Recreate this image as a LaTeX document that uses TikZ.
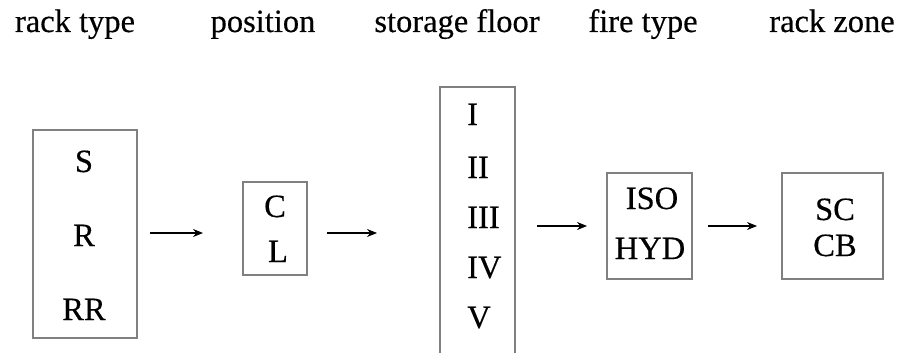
\documentclass[tikz,border=0pt]{standalone}
\usepackage{fontspec}
\setmainfont[FakeBold=0.4]{Liberation Serif}
\usetikzlibrary{arrows.meta}
\begin{document}
\begin{tikzpicture}[x=1pt,y=-1pt,
  boxshape/.style={draw=black!50,line width=1.1pt,fill=none},
  lbl/.style={anchor=base,inner sep=0pt,font=\fontsize{32.5}{38}\selectfont},
  lbll/.style={anchor=base west,inner sep=0pt,font=\fontsize{32.5}{38}\selectfont},
  conn/.style={line width=1.1pt,-{Stealth[length=10pt,width=8pt]}}]
\useasboundingbox (0,0) rectangle (903,353);
% headers
\node[lbl] (h1) at (75,32) {rack type};
\node[lbl] (h2) at (263,32) {position};
\node[lbl] (h3) at (457,32) {storage floor};
\node[lbl] (h4) at (643,32) {fire type};
\node[lbl] (h5) at (832,32) {rack zone};
% boxes
\draw[boxshape] (33,130) rectangle (137,338);
\draw[boxshape] (243,182) rectangle (307,275);
\draw[boxshape] (440,87) rectangle (515,360);
\draw[boxshape] (607,173) rectangle (692,279);
\draw[boxshape] (782,173) rectangle (883,279);
% box texts
\node[lbl] (s) at (84,172) {S};
\node[lbl] (r) at (84,246) {R};
\node[lbl] (rr) at (84,320) {RR};
\node[lbl] (c) at (275,217) {C};
\node[lbl] (l) at (278,262) {L};
\node[lbll] (f1) at (467,125) {I};
\node[lbll] (f2) at (467,178) {II};
\node[lbll] (f3) at (467,228) {III};
\node[lbll] (f4) at (467,278) {IV};
\node[lbll] (f5) at (467,328) {V};
\node[lbl] (iso) at (652,209) {ISO};
\node[lbl] (hyd) at (650,259) {HYD};
\node[lbl] (sc) at (835,220) {SC};
\node[lbl] (cb) at (835,256) {CB};
% arrows
\coordinate (a1s) at (150,233); \coordinate (a1e) at (203,233);
\coordinate (a2s) at (327,233); \coordinate (a2e) at (377,233);
\coordinate (a3s) at (537,226); \coordinate (a3e) at (587,226);
\coordinate (a4s) at (708,226); \coordinate (a4e) at (757,226);
\draw[conn] (a1s) -- (a1e);
\draw[conn] (a2s) -- (a2e);
\draw[conn] (a3s) -- (a3e);
\draw[conn] (a4s) -- (a4e);
\end{tikzpicture}
\end{document}
